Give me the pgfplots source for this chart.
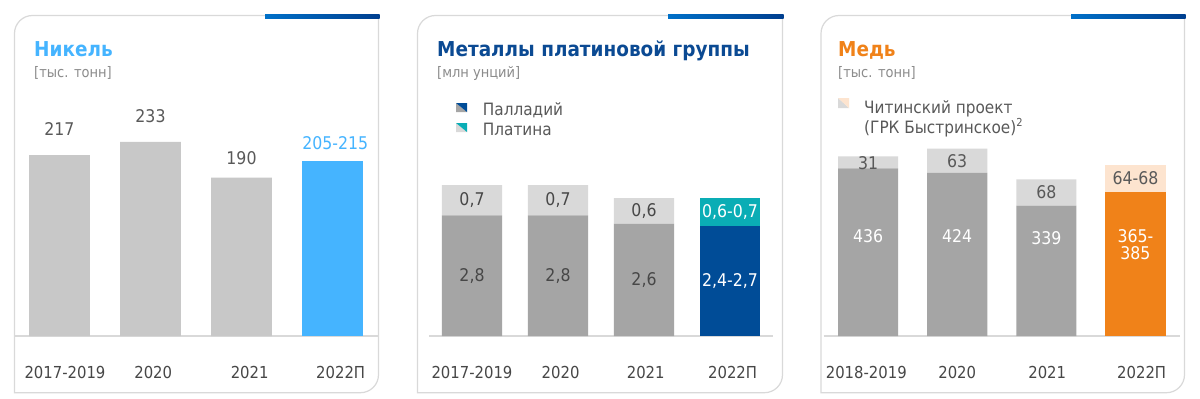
\documentclass[border=0pt]{standalone}
\usepackage{fontspec}
\setmainfont{DejaVu Sans Condensed}
\newfontfamily\titlefont{DejaVu Sans Condensed Bold}
\usepackage{pgfplots}
\pgfplotsset{compat=1.18}
\definecolor{nick}{HTML}{45B4FF}
\definecolor{barg}{HTML}{C8C8C8}
\definecolor{dgrey}{HTML}{A5A5A5}
\definecolor{lgrey}{HTML}{D9D9D9}
\definecolor{pgmblue}{HTML}{004C97}
\definecolor{tealc}{HTML}{0AADB5}
\definecolor{titleblue}{HTML}{0B4A93}
\definecolor{cu}{HTML}{F08219}
\definecolor{peach}{HTML}{FDE4CF}
\definecolor{txt}{HTML}{595959}
\definecolor{tickc}{HTML}{474747}
\definecolor{subc}{HTML}{8C8C8C}
\definecolor{borderc}{HTML}{D9D9D9}
\definecolor{lineA}{HTML}{0070C8}
\definecolor{lineB}{HTML}{003F8F}
\newcommand\myfs[1]{\fontsize{#1bp}{#1bp}\selectfont}
\tikzset{vl/.style={font=\myfs{17.5}}}
\pgfplotsset{
  panel/.style={
    scale only axis, anchor=south west,
    height=250bp,
    xmin=-0.5, xmax=3.5, ymin=0,
    axis x line*=bottom, axis y line=none,
    axis line style={borderc, line width=1.2bp},
    major tick length=0pt, ytick=\empty,
    xticklabel style={font=\myfs{16.5}, text=tickc, anchor=center, yshift=-36bp},
    clip=false,
    ybar stacked,
  }
}
\begin{document}
\begin{tikzpicture}[x=1bp,y=1bp]
\fill[white] (0,0) rectangle (1200,398);
% panel frames
\foreach \L/\R/\S in {14.5/378.5/265, 417.5/782.5/668, 821/1184.5/1071}{
  \draw[borderc, line width=1.2bp] (\L,5.3) -- (\L,364.5) arc[start angle=180, end angle=90, radius=18] -- (\R,382.5) -- (\R,23.3) arc[start angle=0, end angle=-90, radius=18] -- cycle;
  \shade[left color=lineA, right color=lineB] (\S,379) rectangle (\R+1,383);
}
% titles
\node[anchor=base west, inner sep=0, text=nick, font=\titlefont\myfs{20.5}] at (34,341.3) {Никель};
\node[anchor=base west, inner sep=0, text=subc, font=\myfs{14.5}] at (34,320.5) {[тыс. тонн]};
\node[anchor=base west, inner sep=0, text=titleblue, font=\titlefont\myfs{20.5}] at (437,341.3) {Металлы платиновой группы};
\node[anchor=base west, inner sep=0, text=subc, font=\myfs{14.5}] at (437,320.5) {[млн унций]};
\node[anchor=base west, inner sep=0, text=cu, font=\titlefont\myfs{20.5}] at (838,341.3) {Медь};
\node[anchor=base west, inner sep=0, text=subc, font=\myfs{14.5}] at (838,320.5) {[тыс. тонн]};
% legends
\fill[dgrey] (456,286) -- (467,286) -- (456,295) -- cycle;
\fill[pgmblue] (467,286) -- (467,295) -- (456,295) -- cycle;
\fill[lgrey] (456,266) -- (467,266) -- (456,275) -- cycle;
\fill[tealc] (467,266) -- (467,275) -- (456,275) -- cycle;
\node[anchor=base west, inner sep=0, text=txt, font=\myfs{17}] at (482.7,283) {Палладий};
\node[anchor=base west, inner sep=0, text=txt, font=\myfs{17}] at (482.7,263) {Платина};
\fill[lgrey] (838,290) -- (849,290) -- (838,300) -- cycle;
\fill[peach] (849,290) -- (849,300) -- (838,300) -- cycle;
\node[anchor=base west, inner sep=0, text=txt, font=\myfs{17}] at (864,285) {Читинский проект};
\node[anchor=base west, inner sep=0, text=txt, font=\myfs{17}] at (864,265) {(ГРК Быстринское)\textsuperscript{\myfs{11}2}};

% ---- Nickel
\begin{axis}[panel, at={(14bp,62bp)}, width=364bp, ymax=300, bar width=0.67,
  xtick={0.06,1.03,2.09,3.09},
  xticklabels={2017-2019,2020,2021,2022П}]
\addplot[fill=barg, draw=none] coordinates {(0,217) (1,233) (2,190) (3,0)};
\addplot[fill=nick, draw=none] coordinates {(0,0) (1,0) (2,0) (3,210)};
\coordinate (n0) at (axis cs:0,248);
\coordinate (n1) at (axis cs:1,264);
\coordinate (n2) at (axis cs:2,214);
\coordinate (n3) at (axis cs:3.03,232);
\end{axis}
\node[vl, text=txt] at (n0) {217};
\node[vl, text=txt] at (n1) {233};
\node[vl, text=txt] at (n2) {190};
\node[vl, text=nick] at (n3) {205-215};

% ---- PGM
\begin{axis}[panel, at={(429bp,62bp)}, width=344bp, ymax=5.8, bar width=0.70,
  xtick={0,1.03,2.02,3.03},
  xticklabels={2017-2019,2020,2021,2022П}]
\addplot[fill=dgrey, draw=none] coordinates {(0,2.8) (1,2.8) (2,2.6) (3,0)};
\addplot[fill=pgmblue, draw=none] coordinates {(0,0) (1,0) (2,0) (3,2.55)};
\addplot[fill=lgrey, draw=none] coordinates {(0,0.7) (1,0.7) (2,0.6) (3,0)};
\addplot[fill=tealc, draw=none] coordinates {(0,0) (1,0) (2,0) (3,0.65)};
\coordinate (pa0) at (axis cs:0,1.4);
\coordinate (pa1) at (axis cs:1,1.4);
\coordinate (pa2) at (axis cs:2,1.3);
\coordinate (pa3) at (axis cs:3,1.275);
\coordinate (pb0) at (axis cs:0,3.15);
\coordinate (pb1) at (axis cs:1,3.15);
\coordinate (pb2) at (axis cs:2,2.9);
\coordinate (pb3) at (axis cs:3,2.875);
\end{axis}
\node[vl, text=tickc] at (pa0) {2,8};
\node[vl, text=tickc] at (pa1) {2,8};
\node[vl, text=tickc] at (pa2) {2,6};
\node[vl, text=white] at (pa3) {2,4-2,7};
\node[vl, text=tickc] at (pb0) {0,7};
\node[vl, text=tickc] at (pb1) {0,7};
\node[vl, text=tickc] at (pb2) {0,6};
\node[vl, text=white] at (pb3) {0,6-0,7};

% ---- Copper
\begin{axis}[panel, at={(823.5bp,62bp)}, width=356.5bp, ymax=650, bar width=0.675,
  xtick={-0.02,1,2.01,3.07},
  xticklabels={2018-2019,2020,2021,2022П}]
\addplot[fill=dgrey, draw=none] coordinates {(0,436) (1,424) (2,339) (3,0)};
\addplot[fill=cu, draw=none] coordinates {(0,0) (1,0) (2,0) (3,375)};
\addplot[fill=lgrey, draw=none] coordinates {(0,31) (1,63) (2,68) (3,0)};
\addplot[fill=peach, draw=none] coordinates {(0,0) (1,0) (2,0) (3,70)};
\coordinate (ca0) at (axis cs:0,260);
\coordinate (ca1) at (axis cs:1,260);
\coordinate (ca2) at (axis cs:2,255);
\coordinate (ca3) at (axis cs:3,237);
\coordinate (cb0) at (axis cs:0,450);
\coordinate (cb1) at (axis cs:1,455);
\coordinate (cb2) at (axis cs:2,374);
\coordinate (cb3) at (axis cs:3,411);
\end{axis}
\node[vl, text=white] at (ca0) {436};
\node[vl, text=white] at (ca1) {424};
\node[vl, text=white] at (ca2) {339};
\node[vl, text=white, align=center] at (ca3) {365-\\[-1bp]385};
\node[vl, text=txt] at (cb0) {31};
\node[vl, text=txt] at (cb1) {63};
\node[vl, text=txt] at (cb2) {68};
\node[vl, text=txt] at (cb3) {64-68};
\pgfresetboundingbox
\path[use as bounding box] (0,0) rectangle (1200,398);
\end{tikzpicture}
\end{document}
